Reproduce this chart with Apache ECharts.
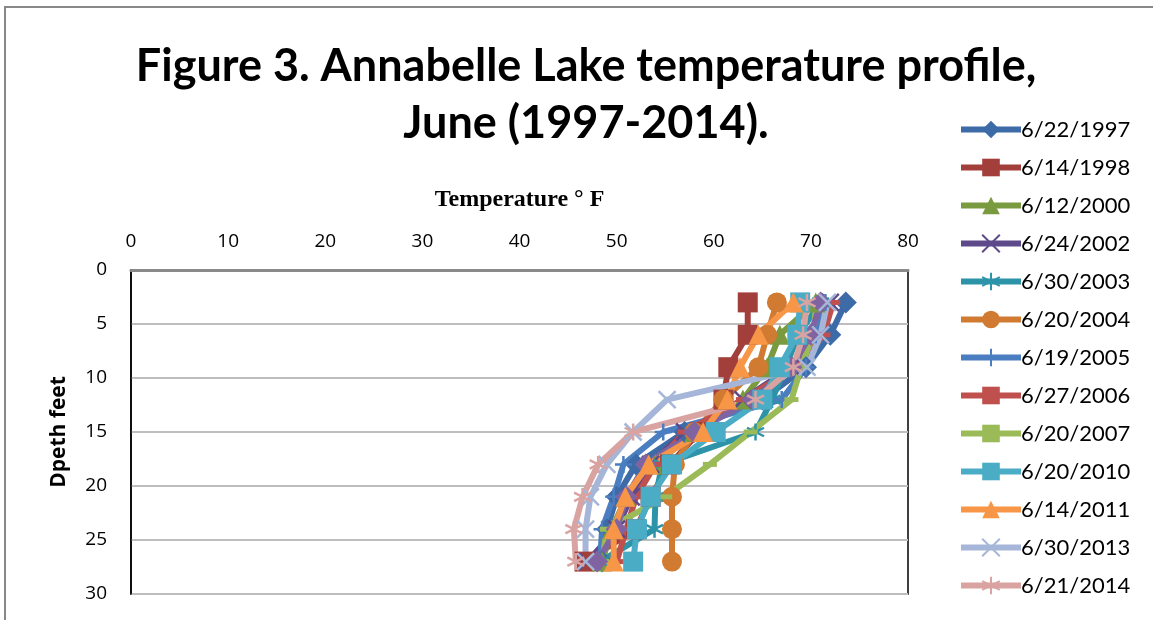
<!DOCTYPE html>
<html>
<head>
<meta charset="utf-8">
<script src="https://cdn.jsdelivr.net/npm/echarts@6/dist/echarts.min.js"></script>
<style>
  html, body { margin: 0; padding: 0; background: #fff; }
  #chart { width: 1153px; height: 620px; }
</style>
</head>
<body>
<div id="chart"></div>
<script>
// depths (feet) where temperature was measured
const depths = [3, 6, 9, 12, 15, 18, 21, 24, 27];
const xTicks = [0, 10, 20, 30, 40, 50, 60, 70, 80];
const yTicks = [0, 5, 10, 15, 20, 25, 30];

const names = ['6/22/1997', '6/14/1998', '6/12/2000', '6/24/2002', '6/30/2003', '6/20/2004', '6/19/2005',
  '6/27/2006', '6/20/2007', '6/20/2007', '6/20/2010', '6/14/2011', '6/30/2013', '6/21/2014'];

// temperature (°F) per date
const t1997 = [73.6, 72.0, 69.5, 65.0, 57.0, 52.0, 50.0, 49.0, 48.5];
const t1998 = [63.5, 63.5, 61.5, 61.0, 58.5, 55.5, 53.5, 52.0, 46.7];
const t2000 = [70.5, 66.8, 65.5, 63.0, 58.0, 54.0, 51.0, 49.5, 48.5];
const t2002 = [72.0, 71.0, 68.0, 63.0, 57.0, 53.5, 51.5, 50.0, 47.0];
const t2003 = [71.0, 68.7, 67.4, 66.0, 64.3, 54.7, 54.0, 53.9, 48.3];
const t2004 = [66.5, 65.5, 64.6, 61.0, 58.0, 56.0, 55.7, 55.7, 55.7];
const t2005 = [71.5, 70.5, 69.5, 67.0, 54.8, 50.7, 49.7, 48.5, 48.3];
const t2006 = [72.3, 71.3, 68.5, 63.0, 57.0, 54.0, 52.0, 51.0, 50.0];
const t2007a = [70.6, 70.2, 69.0, 68.0, 63.8, 59.6, 55.0, 49.0, 48.5];
const t2007b = [71.0, 70.0, 68.0, 64.0, 58.0, 53.0, 51.0, 50.0, 48.0];
const t2010 = [68.9, 68.6, 66.8, 65.0, 60.2, 55.7, 53.5, 52.1, 51.7];
const t2011 = [68.2, 64.6, 62.7, 61.4, 58.9, 53.3, 50.9, 49.7, 49.7];
const t2013 = [71.7, 71.0, 69.6, 55.2, 51.7, 49.0, 47.3, 46.8, 46.8];
const t2014 = [69.6, 69.2, 68.2, 64.3, 51.7, 48.1, 46.5, 45.6, 45.8];

const temps = [t1997, t1998, t2000, t2002, t2003, t2004, t2005, t2006, t2007a, t2007b, t2010, t2011, t2013, t2014];

const colors = ['#3D6BA8', '#A33F3B', '#7A9A3F', '#5E4A8A', '#2D93A8', '#D07A32', '#4A7EC0',
  '#C0504D', '#9BBB59', '#8064A2', '#4BACC6', '#F79646', '#A5B6D8', '#D9A3A2'];

const X = 'path://M0,0L10,10M10,0L0,10';
const STAR = 'path://M5,0L5,10M0,2.5L10,7.5M0,7.5L10,2.5';
const PLUS = 'path://M5,0L5,10M0,5L10,5';
const symbols = ['diamond', 'rect', 'triangle', X, STAR, 'circle', PLUS,
  'rect', 'rect', 'diamond', 'rect', 'triangle', X, STAR];
const sizes = [22, 20, 20, 17, 17, 20, 17, [14, 5], [14, 5], 22, 20, 20, 17, 17];
const stroked = [false, false, false, true, true, false, true, false, false, false, false, false, true, true];

const chart = echarts.init(document.getElementById('chart'), null, { renderer: 'canvas' });

const series = names.map((name, i) => ({
  name: name,
  type: 'line',
  data: temps[i].map((t, k) => [t, depths[k]]),
  symbol: symbols[i],
  symbolSize: sizes[i],
  showSymbol: true,
  animation: false,
  lineStyle: { color: colors[i], width: 6 },
  itemStyle: stroked[i]
    ? { color: colors[i], borderColor: colors[i], borderWidth: 2.5 }
    : { color: colors[i], borderWidth: 0 }
}));

const option = {
  backgroundColor: '#fff',
  animation: false,
  title: {
    text: 'Figure 3. Annabelle Lake temperature profile,\nJune (1997-2014).',
    left: 581,
    top: 33,
    textAlign: 'center',
    textStyle: {
      fontFamily: 'Lato',
      fontWeight: 'bold',
      fontSize: 45,
      lineHeight: 57,
      color: '#000'
    }
  },
  graphic: [{
    type: 'rect',
    shape: { x: 5, y: 7, width: 1160, height: 630 },
    style: { fill: 'none', stroke: '#888', lineWidth: 2 },
    silent: true
  }],
  legend: {
    orient: 'vertical',
    left: 953,
    top: 113,
    itemWidth: 60,
    itemHeight: 22,
    itemGap: 15,
    lineStyle: { width: 6 },
    data: names.map((n) => ({ name: n })),
    textStyle: { fontFamily: 'Lato', fontSize: 22, lineHeight: 23, color: '#000', padding: [0, 0, 0, -5] }
  },
  grid: {
    left: 131,
    top: 270,
    width: 777,
    height: 324,
    show: true,
    borderColor: '#000',
    borderWidth: 1.5,
    backgroundColor: 'transparent'
  },
  xAxis: {
    type: 'value',
    position: 'top',
    min: xTicks[0],
    max: xTicks[xTicks.length - 1],
    interval: xTicks[1] - xTicks[0],
    name: 'Temperature ° F',
    nameLocation: 'middle',
    nameGap: 58,
    nameTextStyle: { fontFamily: 'Liberation Serif', fontWeight: 'bold', fontSize: 24, color: '#000' },
    axisLine: { show: true, lineStyle: { color: '#8a8a8a', width: 3 } },
    axisTick: { show: false },
    splitLine: { show: false },
    axisLabel: { fontFamily: 'Open Sans', fontSize: 19, color: '#000', margin: 19 }
  },
  yAxis: {
    type: 'value',
    inverse: true,
    min: yTicks[0],
    max: yTicks[yTicks.length - 1],
    interval: yTicks[1] - yTicks[0],
    name: 'Dpeth feet',
    nameLocation: 'middle',
    nameGap: 61,
    nameRotate: 90,
    nameTextStyle: { fontFamily: 'Open Sans', fontWeight: 'bold', fontSize: 21, color: '#000' },
    axisLine: { show: true, lineStyle: { color: '#000', width: 1.5 } },
    axisTick: { show: false },
    splitLine: { show: true, lineStyle: { color: '#BEBEBE', width: 2 } },
    axisLabel: { fontFamily: 'Open Sans', fontSize: 19, color: '#000', margin: 24 }
  },
  series: series
};

chart.setOption(option);
window.addEventListener('resize', () => chart.resize());
</script>
</body>
</html>
